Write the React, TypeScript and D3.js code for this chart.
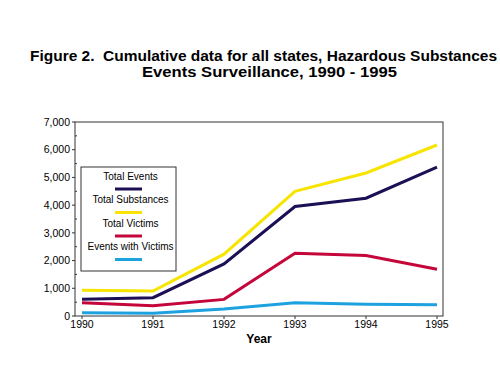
import React from 'react';
import * as d3 from 'd3';

const years = [1990, 1991, 1992, 1993, 1994, 1995];
const totalEvents = [600, 660, 1880, 3950, 4250, 5370];
const totalSubstances = [930, 900, 2230, 4500, 5160, 6170];
const totalVictims = [480, 370, 600, 2260, 2180, 1690];
const eventsWithVictims = [120, 100, 250, 480, 420, 410];

const seriesNames = ['Total Events', 'Total Substances', 'Total Victims', 'Events with Victims'];
const seriesColors = ['#1c0f55', '#f7e400', '#c4063a', '#1ea2df'];
const yTicks = [0, 1000, 2000, 3000, 4000, 5000, 6000, 7000];
const yMinorTicks = [500, 1500, 2500, 3500, 4500, 5500, 6500];

const titleLines = [
  'Figure 2.  Cumulative data for all states, Hazardous Substances',
  'Events Surveillance, 1990 - 1995',
];

const font = '"Liberation Sans", Arial, Helvetica, sans-serif';

export default function App() {
  const width = 500;
  const height = 387;
  const plot = { left: 75, right: 443, top: 122, bottom: 316 };

  const x = d3.scaleLinear().domain([1990, 1995]).range([82, 437]);
  const y = d3.scaleLinear().domain([0, 7000]).range([plot.bottom, plot.top]);
  const fmt = d3.format(',');

  const allSeries = [totalEvents, totalSubstances, totalVictims, eventsWithVictims];
  const line = d3
    .line<number>()
    .x((_, i) => x(years[i]))
    .y((d) => y(d));

  // legend layout
  const legend = { x: 81, y: 167, w: 95, h: 104, step: 23.5 };

  return (
    <div style={{ position: 'absolute', left: 0, top: 0 }}>
      <svg width={width} height={height} style={{ display: 'block', background: '#fff' }}>
        {/* title */}
        <text
          x={30}
          y={61}
          fontFamily={font}
          fontWeight="bold"
          fontSize={14.5}
          fill="#000"
          textLength={467}
          lengthAdjust="spacingAndGlyphs"
          style={{ whiteSpace: 'pre' }}
        >
          {titleLines[0]}
        </text>
        <text
          x={142}
          y={77}
          fontFamily={font}
          fontWeight="bold"
          fontSize={14.5}
          fill="#000"
          textLength={255}
          lengthAdjust="spacingAndGlyphs"
        >
          {titleLines[1]}
        </text>

        {/* frame */}
        <rect
          x={plot.left}
          y={plot.top}
          width={plot.right - plot.left}
          height={plot.bottom - plot.top}
          fill="none"
          stroke="#333"
          strokeWidth={1}
        />

        {/* y axis ticks */}
        {yTicks.map((t) => (
          <g key={t}>
            <line x1={plot.left - 3} x2={plot.left} y1={y(t)} y2={y(t)} stroke="#333" />
            <text
              x={plot.left - 5}
              y={y(t)}
              dy="0.35em"
              textAnchor="end"
              fontFamily={font}
              fontSize={10.5}
              fill="#000"
            >
              {fmt(t)}
            </text>
          </g>
        ))}
        {yMinorTicks.map((t) => (
          <line key={t} x1={plot.left} x2={plot.left + 2} y1={y(t)} y2={y(t)} stroke="#333" />
        ))}

        {/* x axis ticks */}
        {years.map((yr) => (
          <g key={yr}>
            <line x1={x(yr)} x2={x(yr)} y1={plot.bottom} y2={plot.bottom + 3} stroke="#333" />
            <text x={x(yr)} y={plot.bottom + 12} textAnchor="middle" fontFamily={font} fontSize={10.5} fill="#000">
              {yr}
            </text>
          </g>
        ))}
        <text x={259} y={343} textAnchor="middle" fontFamily={font} fontWeight="bold" fontSize={12} fill="#000">
          Year
        </text>

        {/* series */}
        {allSeries.map((s, i) => (
          <path
            key={seriesNames[i]}
            d={line(s) || ''}
            fill="none"
            stroke={seriesColors[i]}
            strokeWidth={3}
            strokeLinejoin="miter"
          />
        ))}

        {/* legend */}
        <rect x={legend.x} y={legend.y} width={legend.w} height={legend.h} fill="#fff" stroke="#333" />
        {seriesNames.map((name, i) => {
          const cx = legend.x + legend.w / 2 + 2;
          const ty = legend.y + 12.5 + i * legend.step;
          return (
            <g key={name}>
              <text x={cx} y={ty} textAnchor="middle" fontFamily={font} fontSize={10} fill="#000">
                {name}
              </text>
              <line x1={115} x2={142} y1={ty + 9.5} y2={ty + 9.5} stroke={seriesColors[i]} strokeWidth={3} />
            </g>
          );
        })}
      </svg>
    </div>
  );
}
